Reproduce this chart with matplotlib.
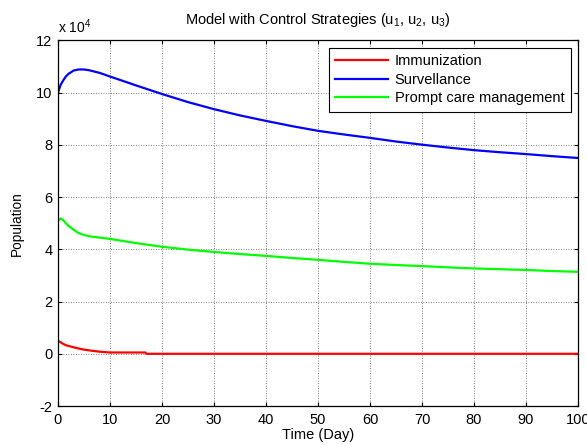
import numpy as np
import matplotlib.pyplot as plt

# time points (days) and population values in units of 1e4
t = [0, 0.5, 1, 1.5, 2, 3, 4, 5, 6, 8, 10, 15, 20, 25, 30, 35, 40, 45,
     50, 55, 60, 65, 70, 75, 80, 85, 90, 95, 100]
surveillance = [10.0, 10.3, 10.47, 10.62, 10.72, 10.85, 10.89, 10.89, 10.86,
                10.76, 10.62, 10.28, 9.95, 9.64, 9.37, 9.13, 8.92, 8.72,
                8.54, 8.40, 8.27, 8.13, 8.01, 7.90, 7.80, 7.72, 7.65, 7.57, 7.50]
prompt_care = [5.1, 5.18, 5.12, 5.0, 4.9, 4.75, 4.62, 4.55, 4.5, 4.45, 4.40,
               4.24, 4.1, 3.99, 3.9, 3.82, 3.75, 3.67, 3.6, 3.52, 3.45, 3.40,
               3.36, 3.31, 3.27, 3.24, 3.21, 3.17, 3.14]

t_imm = [0, 0.5, 1, 1.5, 2, 3, 4, 5, 6, 8, 10, 16.8, 17, 30, 50, 70, 100]
immunization = [0.5, 0.44, 0.38, 0.33, 0.3, 0.25, 0.2, 0.16, 0.13, 0.08,
                0.05, 0.05, 0.0, 0.0, 0.0, 0.0, 0.0]

scale = 1e4
xticks = list(range(0, 101, 10))
yticks = list(range(-2, 13, 2))

plt.rcParams['font.family'] = ['Liberation Sans', 'DejaVu Sans']
plt.rcParams['mathtext.fontset'] = 'custom'
plt.rcParams['mathtext.rm'] = 'Liberation Sans'

fig = plt.figure(figsize=(5.87, 4.45), dpi=100)
ax = fig.add_axes([0.0988, 0.0876, 0.8859, 0.8214])

ax.plot(t_imm, np.array(immunization) * scale, color='#ff0000', lw=1.6,
        label='Immunization')
ax.plot(t, np.array(surveillance) * scale, color='#0000ff', lw=1.6,
        label='Survellance')
ax.plot(t, np.array(prompt_care) * scale, color='#00ff00', lw=1.6,
        label='Prompt care management')

ax.set_xlim(0, 100)
ax.set_ylim(-2 * scale, 12 * scale)
ax.set_xticks(xticks)
ax.set_yticks([v * scale for v in yticks])
ax.set_yticklabels([str(v) for v in yticks])
ax.tick_params(direction='in', top=True, right=True, labelsize=10.5,
               length=3, width=0.8)
ax.tick_params(axis='x', pad=5)
ax.tick_params(axis='y', pad=4)
ax.grid(True, color='#555555', linestyle=(0, (1, 2)), linewidth=0.6)
for s in ax.spines.values():
    s.set_linewidth(0.9)

ax.text(0.0, 1.012, r'x 10$^4$', transform=ax.transAxes, fontsize=10,
        ha='left', va='bottom')
ax.set_title('Model with Control Strategies (u$_1$, u$_2$, u$_3$)',
             fontsize=10.5, pad=12)
ax.set_xlabel('Time (Day)', fontsize=10.5, labelpad=1)
ax.set_ylabel('Population', fontsize=9.8, labelpad=9)

leg = ax.legend(loc='upper right', fontsize=10.5, fancybox=False,
                edgecolor='black', framealpha=1, borderaxespad=0.5,
                handlelength=3.6, handletextpad=0.45, labelspacing=0.3,
                borderpad=0.45)
leg.get_frame().set_linewidth(0.8)

fig.savefig('out.png', dpi=100)
